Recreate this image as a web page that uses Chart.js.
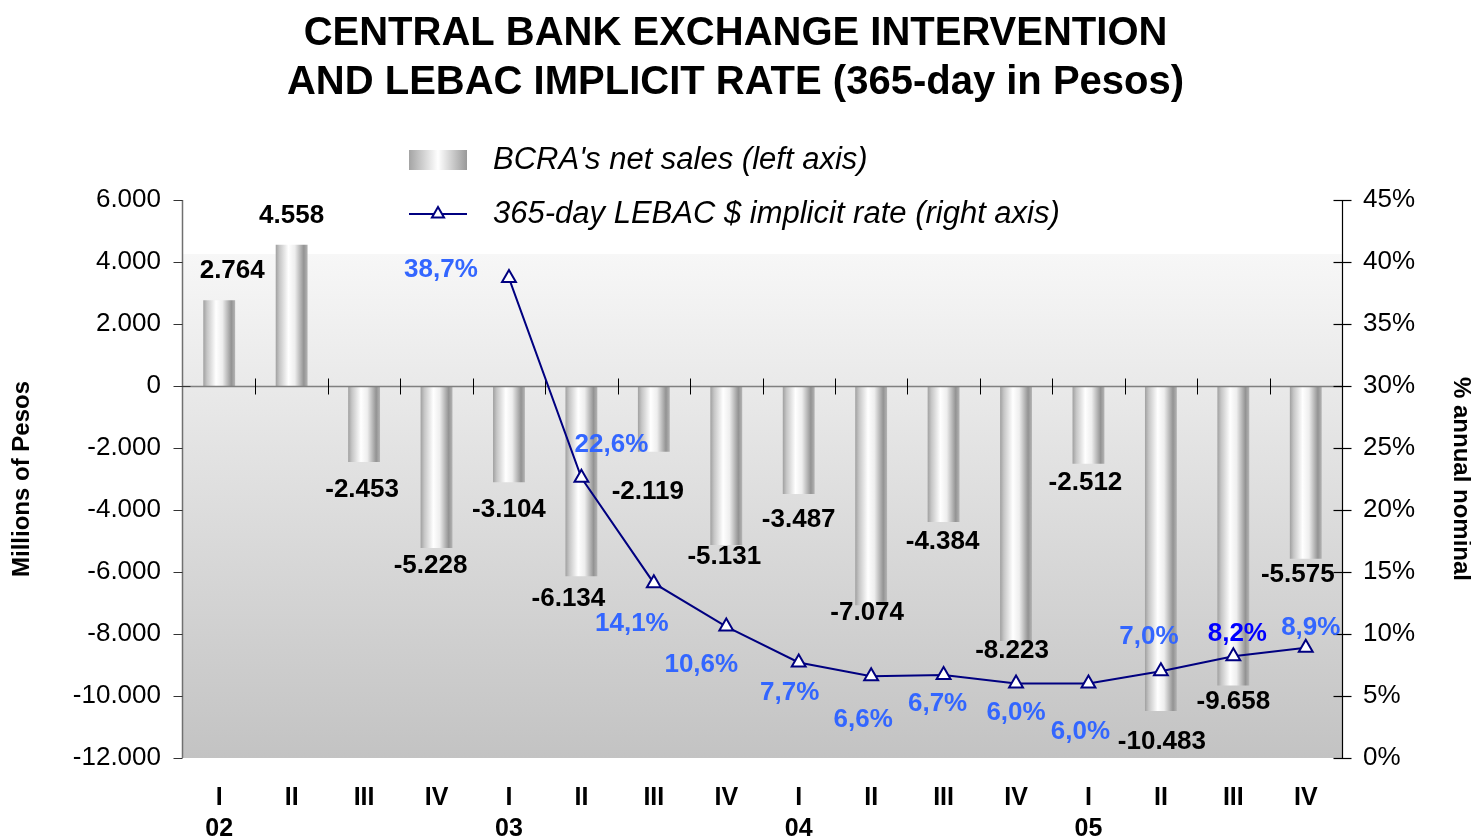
<!DOCTYPE html>
<html lang="en">
  <head>
    <meta charset="UTF-8" />
    <title>Central Bank Exchange Intervention and LEBAC Implicit Rate</title>
    <script src="https://cdn.jsdelivr.net/npm/chart.js"></script>
    <style>
      html, body {
        margin: 0;
        padding: 0;
        background: #fff;
      }
      #chartContainer {
        width: 1471px;
        height: 840px;
      }
    </style>
  </head>
  <body>
    <div id="chartContainer">
      <canvas id="bcraChart" width="1471" height="840"></canvas>
    </div>

    <script>
      const quarterLabels = ["I", "II", "III", "IV", "I", "II", "III", "IV", "I", "II", "III", "IV", "I", "II", "III", "IV"];
      const yearLabels = ["02", "", "", "", "03", "", "", "", "04", "", "", "", "05", "", "", ""];

      // BCRA net sales, millions of pesos (left axis)
      const netSales = [2764, 4558, -2453, -5228, -3104, -6134, -2119, -5131, -3487, -7074, -4384, -8223, -2512, -10483, -9658, -5575];

      // 365-day LEBAC implicit rate, % (right axis), starts in 2003
      const lebacRate = [null, null, null, null, 38.7, 22.6, 14.1, 10.6, 7.7, 6.6, 6.7, 6.0, 6.0, 7.0, 8.2, 8.9];

      const leftTicks = { min: -12000, max: 6000, step: 2000 };
      const rightTicks = { min: 0, max: 45, step: 5 };

      // label placement tweaks (px from the bar end / point), like the original
      const barLabelShift = [
        [13, -29], [0, -29], [-2, 28], [-6, 18], [0, 28], [-13, 23], [-6, 40], [-2, 12],
        [0, 26], [-4, 8], [-1, 20], [-4, 10], [-3, 19], [1, 31], [0, 16], [-8, 16],
      ];
      const rateLabelShift = [
        null, null, null, null,
        [-68, -8], [30, -33], [-22, 41], [-25, 38], [-9, 30], [-8, 44],
        [-6, 29], [0, 29], [-8, 48], [-12, -34], [4, -22], [5, -20],
      ];
      const rateLabelColor = [null, null, null, null, "#3366ff", "#3366ff", "#3366ff", "#3366ff", "#3366ff", "#3366ff", "#3366ff", "#3366ff", "#3366ff", "#3366ff", "#0000ff", "#3366ff"];

      const FONT = "'Liberation Sans', Arial, Helvetica, sans-serif";
      const NAVY = "#000080";
      const BAR_PCT = 0.44;

      Chart.defaults.font.family = FONT;
      Chart.defaults.color = "#000";

      function fmtThousands(v) {
        const s = Math.abs(v).toString().replace(/\B(?=(\d{3})+(?!\d))/g, ".");
        return (v < 0 ? "-" : "") + s;
      }

      function fmtPct(v) {
        return v.toFixed(1).replace(".", ",") + "%";
      }

      function cylinderGradient(ctx, x0, x1) {
        const g = ctx.createLinearGradient(x0, 0, x1, 0);
        g.addColorStop(0, "#a0a0a0");
        g.addColorStop(0.12, "#c6c6c6");
        g.addColorStop(0.4, "#ffffff");
        g.addColorStop(0.6, "#eeeeee");
        g.addColorStop(0.88, "#939393");
        g.addColorStop(1, "#b4b4b4");
        return g;
      }

      const backgroundPlugin = {
        id: "plotBackground",
        beforeDraw(chart) {
          const { ctx, chartArea } = chart;
          ctx.save();
          ctx.fillStyle = "#fff";
          ctx.fillRect(0, 0, chart.width, chart.height);
          const top = chartArea.top + 54;
          const g = ctx.createLinearGradient(0, top, 0, chartArea.bottom);
          g.addColorStop(0, "#f7f7f7");
          g.addColorStop(1, "#c3c3c3");
          ctx.fillStyle = g;
          ctx.fillRect(chartArea.left, top, chartArea.right - chartArea.left, chartArea.bottom - top);
          ctx.restore();
        },
      };

      const axesPlugin = {
        id: "axesLines",
        afterDatasetDraw(chart, args) {
          if (args.meta.type !== "bar") return;
          const { ctx, chartArea } = chart;
          const y = chart.scales.y;
          const y1 = chart.scales.y1;
          const zeroY = Math.round(y.getPixelForValue(0)) + 0.5;
          ctx.save();

          // zero line with category tick marks
          ctx.strokeStyle = "#808080";
          ctx.lineWidth = 1.5;
          ctx.beginPath();
          ctx.moveTo(chartArea.left, zeroY);
          ctx.lineTo(chartArea.right, zeroY);
          ctx.stroke();
          ctx.strokeStyle = "#000";
          ctx.lineWidth = 1;
          const catW = (chartArea.right - chartArea.left) / quarterLabels.length;
          for (let i = 1; i < quarterLabels.length; i++) {
            const px = Math.round(chartArea.left + catW * i) + 0.5;
            ctx.beginPath();
            ctx.moveTo(px, zeroY - 8);
            ctx.lineTo(px, zeroY + 8);
            ctx.stroke();
          }

          // left axis
          const lx = Math.round(chartArea.left) - 0.5;
          ctx.strokeStyle = "#707070";
          ctx.lineWidth = 1.5;
          ctx.beginPath();
          ctx.moveTo(lx, chartArea.top);
          ctx.lineTo(lx, chartArea.bottom);
          ctx.stroke();
          ctx.strokeStyle = "#333";
          ctx.lineWidth = 1;
          for (let v = leftTicks.min; v <= leftTicks.max; v += leftTicks.step) {
            const py = Math.round(y.getPixelForValue(v)) + 0.5;
            ctx.beginPath();
            ctx.moveTo(lx - 9, py);
            ctx.lineTo(lx + (v === 0 ? 8 : 0), py);
            ctx.stroke();
          }

          // right axis
          const rx = Math.round(chartArea.right) + 0.5;
          ctx.strokeStyle = "#000";
          ctx.lineWidth = 1.2;
          ctx.beginPath();
          ctx.moveTo(rx, chartArea.top);
          ctx.lineTo(rx, chartArea.bottom);
          ctx.stroke();
          for (let v = rightTicks.min; v <= rightTicks.max; v += rightTicks.step) {
            const py = Math.round(y1.getPixelForValue(v)) + 0.5;
            ctx.beginPath();
            ctx.moveTo(rx - 9, py);
            ctx.lineTo(rx + 9, py);
            ctx.stroke();
          }
          ctx.restore();
        },
      };

      const valueLabelsPlugin = {
        id: "valueLabels",
        afterDatasetsDraw(chart) {
          const { ctx } = chart;
          ctx.save();
          ctx.textAlign = "center";
          ctx.textBaseline = "middle";
          ctx.font = "bold 26px " + FONT;

          const barMeta = chart.getDatasetMeta(0);
          barMeta.data.forEach((bar, i) => {
            const [dx, dy] = barLabelShift[i];
            ctx.fillStyle = "#000";
            ctx.fillText(fmtThousands(netSales[i]), bar.x + dx, bar.y + dy);
          });

          const lineMeta = chart.getDatasetMeta(1);
          lineMeta.data.forEach((pt, i) => {
            if (lebacRate[i] === null) return;
            const [dx, dy] = rateLabelShift[i];
            ctx.fillStyle = rateLabelColor[i];
            ctx.fillText(fmtPct(lebacRate[i]), pt.x + dx, pt.y + dy);
          });
          ctx.restore();
        },
      };

      const legendPlugin = {
        id: "customLegend",
        afterDraw(chart) {
          const { ctx } = chart;
          const x0 = 409;
          const x1 = 467;
          const textX = 493;
          const rowY = [160, 214];
          ctx.save();

          // bar swatch
          const sw = ctx.createLinearGradient(x0, 0, x1, 0);
          sw.addColorStop(0, "#a4a4a4");
          sw.addColorStop(0.5, "#ffffff");
          sw.addColorStop(1, "#999999");
          ctx.fillStyle = sw;
          ctx.fillRect(x0, rowY[0] - 10, x1 - x0, 20);

          // line swatch
          ctx.strokeStyle = NAVY;
          ctx.lineWidth = 2;
          ctx.beginPath();
          ctx.moveTo(x0, rowY[1]);
          ctx.lineTo(x1, rowY[1]);
          ctx.stroke();
          const cx = (x0 + x1) / 2;
          const r = 7;
          ctx.beginPath();
          ctx.moveTo(cx, rowY[1] - r);
          ctx.lineTo(cx + r * 0.866, rowY[1] + r * 0.5);
          ctx.lineTo(cx - r * 0.866, rowY[1] + r * 0.5);
          ctx.closePath();
          ctx.fillStyle = "#fff";
          ctx.fill();
          ctx.stroke();

          ctx.fillStyle = "#000";
          ctx.font = "italic 31px " + FONT;
          ctx.textAlign = "left";
          ctx.textBaseline = "middle";
          ctx.fillText("BCRA's net sales (left axis)", textX, rowY[0]);
          ctx.fillText("365-day LEBAC $ implicit rate (right axis)", textX, rowY[1]);
          ctx.restore();
        },
      };

      const labels = quarterLabels.map((q, i) => [q, yearLabels[i]]);

      const ctx = document.getElementById("bcraChart").getContext("2d");
      const chart = new Chart(ctx, {
        type: "bar",
        data: {
          labels: labels,
          datasets: [
            {
              type: "bar",
              label: "BCRA's net sales (left axis)",
              data: netSales,
              yAxisID: "y",
              order: 1,
              barPercentage: BAR_PCT,
              categoryPercentage: 1,
              borderWidth: 0,
              backgroundColor: (c) => {
                const area = c.chart.chartArea;
                const xs = c.chart.scales.x;
                if (!area || !xs || c.dataIndex === undefined) return "#cccccc";
                const w = ((area.right - area.left) / quarterLabels.length) * BAR_PCT;
                const cx = xs.getPixelForValue(c.dataIndex);
                if (!isFinite(cx) || !isFinite(w) || w <= 0) return "#cccccc";
                return cylinderGradient(c.chart.ctx, cx - w / 2, cx + w / 2);
              },
            },
            {
              type: "line",
              label: "365-day LEBAC $ implicit rate (right axis)",
              data: lebacRate,
              yAxisID: "y1",
              order: 0,
              borderColor: NAVY,
              borderWidth: 2,
              tension: 0,
              fill: false,
              pointStyle: "triangle",
              pointRadius: 8,
              pointBackgroundColor: "#fff",
              pointBorderColor: NAVY,
              pointBorderWidth: 2,
            },
          ],
        },
        options: {
          responsive: false,
          animation: false,
          events: [],
          layout: { padding: 0 },
          plugins: {
            legend: { display: false },
            tooltip: { enabled: false },
            title: {
              display: true,
              text: [
                "CENTRAL BANK EXCHANGE INTERVENTION",
                "AND LEBAC IMPLICIT RATE (365-day in Pesos)",
              ],
              color: "#000",
              font: { size: 40, weight: "bold", lineHeight: 1.225 },
              padding: { top: 9, bottom: 93 },
            },
          },
          scales: {
            x: {
              type: "category",
              grid: { display: false, drawTicks: false, tickLength: 0 },
              border: { display: false },
              ticks: {
                padding: 24,
                maxRotation: 0,
                autoSkip: false,
                color: "#000",
                font: { size: 25, weight: "bold", lineHeight: 1.25 },
              },
              afterFit(scale) {
                scale.height = 82;
              },
            },
            y: {
              position: "left",
              min: leftTicks.min,
              max: leftTicks.max,
              grid: { display: false, drawTicks: false, tickLength: 0 },
              border: { display: false },
              ticks: {
                stepSize: leftTicks.step,
                padding: 22,
                color: "#000",
                font: { size: 26 },
                callback: (v) => fmtThousands(v),
              },
              title: {
                display: true,
                text: "Millions of Pesos",
                color: "#000",
                font: { size: 24, weight: "bold", lineHeight: 1.2 },
                padding: { top: 8 },
              },
              afterFit(scale) {
                scale.width = 183;
              },
            },
            y1: {
              position: "right",
              min: rightTicks.min,
              max: rightTicks.max,
              grid: { display: false, drawTicks: false, tickLength: 0 },
              border: { display: false },
              ticks: {
                stepSize: rightTicks.step,
                padding: 21,
                color: "#000",
                font: { size: 26 },
                callback: (v) => v + "%",
              },
              title: {
                display: true,
                text: "% annual nominal",
                color: "#000",
                font: { size: 24, weight: "bold", lineHeight: 0.9 },
                padding: { top: 0 },
              },
              afterFit(scale) {
                scale.width = 129;
              },
            },
          },
        },
        plugins: [backgroundPlugin, axesPlugin, valueLabelsPlugin, legendPlugin],
      });
    </script>
  </body>
</html>
